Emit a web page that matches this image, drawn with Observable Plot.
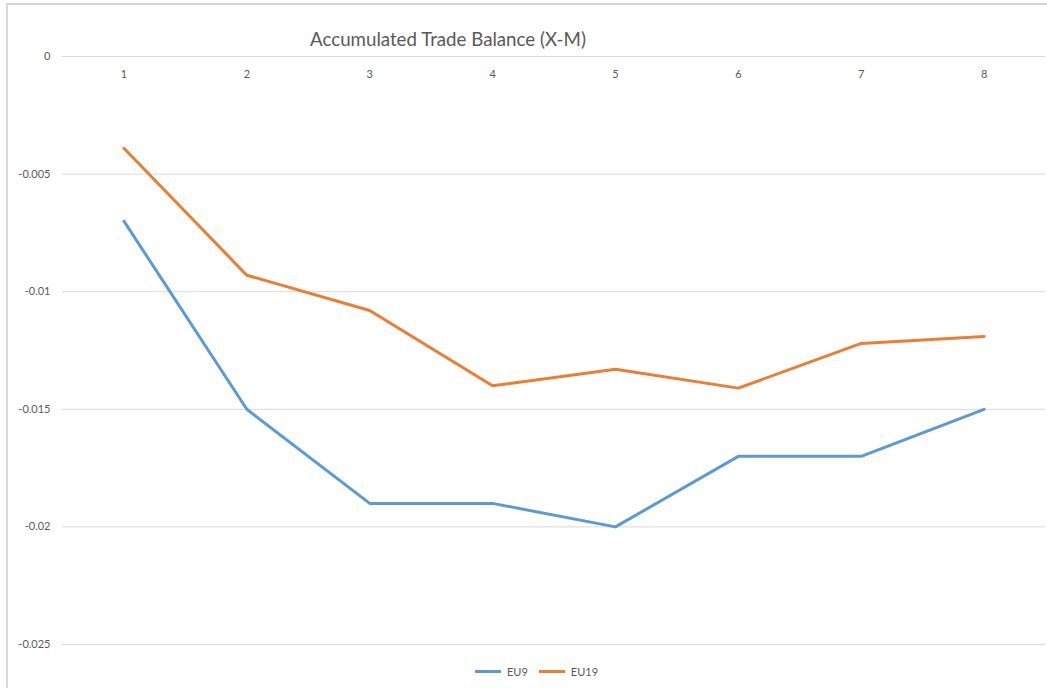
<!DOCTYPE html>
<html>
<head>
<meta charset="utf-8">
<script src="https://cdn.jsdelivr.net/npm/d3@7"></script>
<script src="https://cdn.jsdelivr.net/npm/@observablehq/plot@0.6"></script>
<style>
  html, body { margin: 0; padding: 0; background: #fff; }
  #wrap { position: relative; width: 1047px; height: 688px; overflow: hidden; font-family: Lato, "Liberation Sans", sans-serif; }
  #frame { position: absolute; left: 6px; top: 3px; width: 1100px; height: 800px; border-left: 2px solid #d9d9d9; border-top: 2px solid #d9d9d9; box-sizing: border-box; pointer-events: none; }
  #chart { position: absolute; left: 0; top: 0; }
  #legend { position: absolute; left: 475px; top: 665px; display: flex; align-items: center; font-size: 11px; color: #595959; gap: 0; }
  .sw { display: inline-block; width: 26px; height: 3px; margin-right: 6px; }
  .item { display: flex; align-items: center; margin-right: 11px; }
</style>
</head>
<body>
<div id="wrap">
  <div id="frame"></div>
  <div id="chart"></div>
  <div id="legend"></div>
</div>
<script>
const title = "Accumulated Trade Balance (X-M)";
const periods = ["1", "2", "3", "4", "5", "6", "7", "8"];
const seriesNames = ["EU9", "EU19"];
const seriesColors = ["#5B9BD5", "#ED7D31"];
const eu9 = [-0.007, -0.015, -0.019, -0.019, -0.020, -0.017, -0.017, -0.015];
const eu19 = [-0.0039, -0.0093, -0.0108, -0.0140, -0.0133, -0.0141, -0.0122, -0.0119];
const yTicks = [0, -0.005, -0.01, -0.015, -0.02, -0.025];
const yTickLabels = ["0", "-0.005", "-0.01", "-0.015", "-0.02", "-0.025"];

const data = [
  ...periods.map((p, i) => ({period: p, value: eu9[i], series: "EU9"})),
  ...periods.map((p, i) => ({period: p, value: eu19[i], series: "EU19"}))
];

const plot = Plot.plot({
  width: 1047,
  height: 660,
  marginLeft: 62,
  marginRight: 2,
  marginTop: 56,
  marginBottom: 16,
  style: {fontFamily: "Lato, 'Liberation Sans', sans-serif", background: "transparent", overflow: "visible"},
  x: {type: "point", domain: periods, padding: 0.5, align: 0.5, round: false, axis: null},
  y: {domain: [-0.025, 0], axis: null},
  color: {domain: seriesNames, range: seriesColors},
  marks: [
    Plot.ruleY(yTicks, {stroke: "#d9d9d9", strokeWidth: 1}),
    Plot.axisY({ticks: yTicks, tickSize: 0, tickPadding: 12, fontSize: 11, color: "#595959",
      tickFormat: d => yTickLabels[yTicks.indexOf(d)], label: null}),
    Plot.text(periods, {x: d => d, y: () => 0, dy: 18, fontSize: 11, fill: "#595959"}),
    Plot.line(data, {x: "period", y: "value", stroke: "series", z: "series", strokeWidth: 3, strokeLinejoin: "round", strokeLinecap: "round"}),
    Plot.text([title], {frameAnchor: "top", dx: -106, dy: -16, lineAnchor: "middle", textAnchor: "middle", fontSize: 18.7, fill: "#595959"})
  ]
});
document.getElementById("chart").appendChild(plot);

const legend = document.getElementById("legend");
seriesNames.forEach((n, i) => {
  const item = document.createElement("div");
  item.className = "item";
  const sw = document.createElement("span");
  sw.className = "sw";
  sw.style.background = seriesColors[i];
  const t = document.createElement("span");
  t.textContent = n;
  item.appendChild(sw);
  item.appendChild(t);
  legend.appendChild(item);
});
</script>
</body>
</html>
